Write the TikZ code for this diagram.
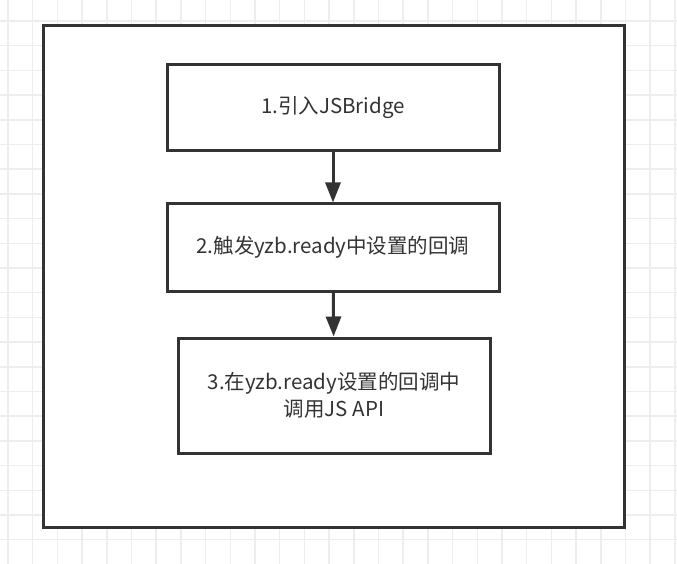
\documentclass[tikz,border=0pt]{standalone}
\usepackage{fontspec}
\setmainfont{Noto Sans CJK SC}
\usetikzlibrary{arrows.meta}
\definecolor{gridc}{HTML}{EEEEEE}
\definecolor{linec}{HTML}{333333}
\definecolor{textc}{HTML}{333333}
\tikzset{
  stepbox/.style={draw=linec, line width=3pt, text=textc, font=\fontsize{20.5}{27}\selectfont, align=center, inner sep=0pt},
  flow/.style={draw=linec, line width=3pt, -{Triangle[length=20pt,width=15pt]}},
  frame/.style={draw=linec, line width=3pt}
}
\begin{document}
\begin{tikzpicture}[x=1pt,y=-1pt]
\useasboundingbox (0,0) rectangle (677,564);
\fill[white] (0,0) rectangle (677,564);
\foreach \i in {0,...,27} {
  \draw[gridc, line width=1.5pt] ({8+24.7*\i},0) -- ({8+24.7*\i},564);
}
\foreach \j in {0,...,22} {
  \draw[gridc, line width=1.5pt] (0,{21+24.7*\j}) -- (677,{21+24.7*\j});
}
\draw[frame, fill=white] (43,26) rectangle (624,527);
\node[stepbox, minimum width=332pt, minimum height=86pt] (s1) at (333,108) {1.引入JSBridge};
\node[stepbox, minimum width=332pt, minimum height=87pt] (s2) at (333,247.5) {2.触发yzb.ready中设置的回调};
\node[stepbox, minimum width=312pt, minimum height=115pt] (s3) at (334,395.5) {3.在yzb.ready设置的回调中\\调用JS API};
\draw[flow] (s1) -- (s2);
\draw[flow] (s2) -- (s3);
\end{tikzpicture}
\end{document}
